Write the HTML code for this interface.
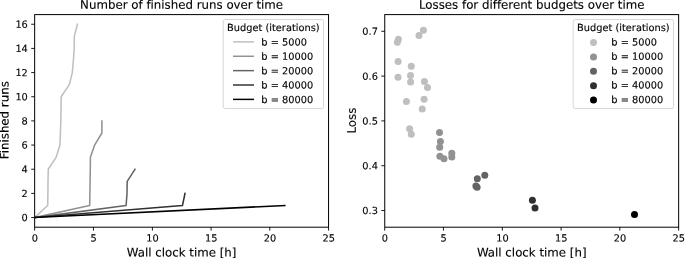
<!DOCTYPE html>
<html><head><meta charset="utf-8"><title>Budgets</title>
<style>html,body{margin:0;padding:0;background:#fff;overflow:hidden}svg{display:block;will-change:transform}text{font-variant-ligatures:none;font-feature-settings:"liga" 0,"clig" 0;text-rendering:geometricPrecision;font-family:"DejaVu Sans","Liberation Sans",sans-serif;fill:#000;stroke:#000;stroke-width:0.13px}</style></head><body>
<svg width="685" height="258" viewBox="0 0 685 258">
<rect width="685" height="258" fill="#fff"/>
<text transform="translate(181.60,8.70) rotate(0.03)" font-size="11.8" text-anchor="middle">Number of finished runs over time</text>
<text transform="translate(181.60,256.50) rotate(0.03)" font-size="11.8" text-anchor="middle">Wall clock time [h]</text>
<text transform="translate(8.55,120.20) rotate(-89.97)" font-size="11.8" text-anchor="middle">Finished runs</text>
<line x1="34.65" y1="227.2" x2="34.65" y2="230.63" stroke="#000" stroke-width="0.9"/>
<text transform="translate(34.75,241.60) rotate(0.03)" font-size="9.8" text-anchor="middle">0</text>
<line x1="93.45" y1="227.2" x2="93.45" y2="230.63" stroke="#000" stroke-width="0.9"/>
<text transform="translate(93.55,241.60) rotate(0.03)" font-size="9.8" text-anchor="middle">5</text>
<line x1="152.40" y1="227.2" x2="152.40" y2="230.63" stroke="#000" stroke-width="0.9"/>
<text transform="translate(152.50,241.60) rotate(0.03)" font-size="9.8" text-anchor="middle">10</text>
<line x1="211.10" y1="227.2" x2="211.10" y2="230.63" stroke="#000" stroke-width="0.9"/>
<text transform="translate(211.20,241.60) rotate(0.03)" font-size="9.8" text-anchor="middle">15</text>
<line x1="269.80" y1="227.2" x2="269.80" y2="230.63" stroke="#000" stroke-width="0.9"/>
<text transform="translate(269.90,241.60) rotate(0.03)" font-size="9.8" text-anchor="middle">20</text>
<line x1="328.55" y1="227.2" x2="328.55" y2="230.63" stroke="#000" stroke-width="0.9"/>
<text transform="translate(328.65,241.60) rotate(0.03)" font-size="9.8" text-anchor="middle">25</text>
<line x1="31.22" y1="217.54" x2="34.65" y2="217.54" stroke="#000" stroke-width="0.9"/>
<text transform="translate(27.85,221.09) rotate(0.03)" font-size="9.8" text-anchor="end">0</text>
<line x1="31.22" y1="193.38" x2="34.65" y2="193.38" stroke="#000" stroke-width="0.9"/>
<text transform="translate(27.85,196.93) rotate(0.03)" font-size="9.8" text-anchor="end">2</text>
<line x1="31.22" y1="169.22" x2="34.65" y2="169.22" stroke="#000" stroke-width="0.9"/>
<text transform="translate(27.85,172.77) rotate(0.03)" font-size="9.8" text-anchor="end">4</text>
<line x1="31.22" y1="145.06" x2="34.65" y2="145.06" stroke="#000" stroke-width="0.9"/>
<text transform="translate(27.85,148.61) rotate(0.03)" font-size="9.8" text-anchor="end">6</text>
<line x1="31.22" y1="120.90" x2="34.65" y2="120.90" stroke="#000" stroke-width="0.9"/>
<text transform="translate(27.85,124.45) rotate(0.03)" font-size="9.8" text-anchor="end">8</text>
<line x1="31.22" y1="96.74" x2="34.65" y2="96.74" stroke="#000" stroke-width="0.9"/>
<text transform="translate(27.85,100.29) rotate(0.03)" font-size="9.8" text-anchor="end">10</text>
<line x1="31.22" y1="72.58" x2="34.65" y2="72.58" stroke="#000" stroke-width="0.9"/>
<text transform="translate(27.85,76.13) rotate(0.03)" font-size="9.8" text-anchor="end">12</text>
<line x1="31.22" y1="48.42" x2="34.65" y2="48.42" stroke="#000" stroke-width="0.9"/>
<text transform="translate(27.85,51.97) rotate(0.03)" font-size="9.8" text-anchor="end">14</text>
<line x1="31.22" y1="24.26" x2="34.65" y2="24.26" stroke="#000" stroke-width="0.9"/>
<text transform="translate(27.85,27.81) rotate(0.03)" font-size="9.8" text-anchor="end">16</text>
<clipPath id="cl"><rect x="34.65" y="14.6" width="293.90000000000003" height="212.6"/></clipPath>
<g clip-path="url(#cl)" fill="none" stroke-width="1.55" stroke-linejoin="round" stroke-linecap="square">
<polyline stroke="#bfbfbf" points="34.65,217.54 47.70,205.46 47.90,193.38 48.00,181.30 48.25,169.22 56.20,157.14 59.90,145.06 60.40,132.98 60.80,120.90 61.00,108.82 61.20,96.74 69.30,84.66 72.30,72.58 73.40,60.50 74.20,48.42 74.30,36.34 77.40,24.26"/>
<polyline stroke="#929292" points="34.65,217.54 89.70,205.46 89.90,193.38 90.10,181.30 90.30,169.22 90.40,157.14 94.60,145.06 101.90,132.98 101.90,120.90"/>
<polyline stroke="#636363" points="34.65,217.54 126.10,205.46 127.00,193.38 127.20,181.30 135.00,169.22"/>
<polyline stroke="#303030" points="34.65,217.54 182.50,205.46 185.00,193.38"/>
<polyline stroke="#000000" points="34.65,217.54 284.80,205.46"/>
</g>
<rect x="34.65" y="14.6" width="293.90000000000003" height="212.6" fill="none" stroke="#000" stroke-width="1.0"/>
<text transform="translate(531.70,8.70) rotate(0.03)" font-size="11.8" text-anchor="middle">Losses for different budgets over time</text>
<text transform="translate(531.70,256.50) rotate(0.03)" font-size="11.8" text-anchor="middle">Wall clock time [h]</text>
<text transform="translate(355.70,120.65) rotate(-89.97)" font-size="11.8" text-anchor="middle">Loss</text>
<line x1="384.70" y1="227.2" x2="384.70" y2="230.63" stroke="#000" stroke-width="0.9"/>
<text transform="translate(384.80,241.60) rotate(0.03)" font-size="9.8" text-anchor="middle">0</text>
<line x1="443.45" y1="227.2" x2="443.45" y2="230.63" stroke="#000" stroke-width="0.9"/>
<text transform="translate(443.55,241.60) rotate(0.03)" font-size="9.8" text-anchor="middle">5</text>
<line x1="502.35" y1="227.2" x2="502.35" y2="230.63" stroke="#000" stroke-width="0.9"/>
<text transform="translate(502.45,241.60) rotate(0.03)" font-size="9.8" text-anchor="middle">10</text>
<line x1="561.10" y1="227.2" x2="561.10" y2="230.63" stroke="#000" stroke-width="0.9"/>
<text transform="translate(561.20,241.60) rotate(0.03)" font-size="9.8" text-anchor="middle">15</text>
<line x1="619.80" y1="227.2" x2="619.80" y2="230.63" stroke="#000" stroke-width="0.9"/>
<text transform="translate(619.90,241.60) rotate(0.03)" font-size="9.8" text-anchor="middle">20</text>
<line x1="678.65" y1="227.2" x2="678.65" y2="230.63" stroke="#000" stroke-width="0.9"/>
<text transform="translate(678.75,241.60) rotate(0.03)" font-size="9.8" text-anchor="middle">25</text>
<line x1="381.32" y1="210.50" x2="384.75" y2="210.50" stroke="#000" stroke-width="0.9"/>
<text transform="translate(377.95,214.05) rotate(0.03)" font-size="9.8" text-anchor="end">0.3</text>
<line x1="381.32" y1="165.70" x2="384.75" y2="165.70" stroke="#000" stroke-width="0.9"/>
<text transform="translate(377.95,169.25) rotate(0.03)" font-size="9.8" text-anchor="end">0.4</text>
<line x1="381.32" y1="120.90" x2="384.75" y2="120.90" stroke="#000" stroke-width="0.9"/>
<text transform="translate(377.95,124.45) rotate(0.03)" font-size="9.8" text-anchor="end">0.5</text>
<line x1="381.32" y1="76.10" x2="384.75" y2="76.10" stroke="#000" stroke-width="0.9"/>
<text transform="translate(377.95,79.65) rotate(0.03)" font-size="9.8" text-anchor="end">0.6</text>
<line x1="381.32" y1="31.30" x2="384.75" y2="31.30" stroke="#000" stroke-width="0.9"/>
<text transform="translate(377.95,34.85) rotate(0.03)" font-size="9.8" text-anchor="end">0.7</text>
<g fill="#bfbfbf"><circle cx="423.40" cy="30.35" r="3.5"/><circle cx="419.00" cy="35.40" r="3.5"/><circle cx="398.40" cy="39.20" r="3.5"/><circle cx="397.40" cy="42.30" r="3.5"/><circle cx="398.10" cy="61.60" r="3.5"/><circle cx="411.30" cy="66.20" r="3.5"/><circle cx="398.00" cy="77.20" r="3.5"/><circle cx="410.50" cy="75.50" r="3.5"/><circle cx="410.60" cy="82.00" r="3.5"/><circle cx="424.40" cy="81.40" r="3.5"/><circle cx="427.50" cy="87.60" r="3.5"/><circle cx="424.10" cy="99.20" r="3.5"/><circle cx="406.40" cy="101.40" r="3.5"/><circle cx="422.20" cy="108.90" r="3.5"/><circle cx="409.60" cy="128.70" r="3.5"/><circle cx="411.30" cy="134.30" r="3.5"/></g>
<g fill="#929292"><circle cx="439.50" cy="132.60" r="3.5"/><circle cx="440.40" cy="141.50" r="3.5"/><circle cx="439.70" cy="147.30" r="3.5"/><circle cx="439.90" cy="156.30" r="3.5"/><circle cx="444.00" cy="158.80" r="3.5"/><circle cx="451.80" cy="153.20" r="3.5"/><circle cx="451.80" cy="156.90" r="3.5"/></g>
<g fill="#636363"><circle cx="484.80" cy="175.30" r="3.5"/><circle cx="477.30" cy="178.80" r="3.5"/><circle cx="475.90" cy="186.00" r="3.5"/><circle cx="477.10" cy="187.20" r="3.5"/></g>
<g fill="#303030"><circle cx="532.40" cy="200.20" r="3.5"/><circle cx="535.00" cy="208.00" r="3.5"/></g>
<g fill="#000000"><circle cx="634.50" cy="214.60" r="3.5"/></g>
<rect x="384.75" y="14.6" width="293.90" height="212.6" fill="none" stroke="#000" stroke-width="1.0"/>
<rect x="223.20" y="19.55" width="100.3" height="88.95" rx="1.9" ry="1.9" fill="#fff" fill-opacity="0.8" stroke="#ccc" stroke-opacity="0.8" stroke-width="0.98"/>
<text transform="translate(273.35,31.00) rotate(0.03)" font-size="9.8" text-anchor="middle">Budget (iterations)</text>
<line x1="233.0" y1="41.90" x2="254.0" y2="41.90" stroke="#bfbfbf" stroke-width="1.47"/>
<text transform="translate(261.30,45.40) rotate(0.03)" font-size="9.8">b = 5000</text>
<line x1="233.0" y1="56.27" x2="254.0" y2="56.27" stroke="#929292" stroke-width="1.47"/>
<text transform="translate(261.30,59.77) rotate(0.03)" font-size="9.8">b = 10000</text>
<line x1="233.0" y1="70.64" x2="254.0" y2="70.64" stroke="#636363" stroke-width="1.47"/>
<text transform="translate(261.30,74.14) rotate(0.03)" font-size="9.8">b = 20000</text>
<line x1="233.0" y1="85.01" x2="254.0" y2="85.01" stroke="#303030" stroke-width="1.47"/>
<text transform="translate(261.30,88.51) rotate(0.03)" font-size="9.8">b = 40000</text>
<line x1="233.0" y1="99.38" x2="254.0" y2="99.38" stroke="#000000" stroke-width="1.47"/>
<text transform="translate(261.30,102.88) rotate(0.03)" font-size="9.8">b = 80000</text>
<rect x="573.20" y="19.55" width="100.3" height="88.95" rx="1.9" ry="1.9" fill="#fff" fill-opacity="0.8" stroke="#ccc" stroke-opacity="0.8" stroke-width="0.98"/>
<text transform="translate(623.35,31.00) rotate(0.03)" font-size="9.8" text-anchor="middle">Budget (iterations)</text>
<circle cx="593.50" cy="42.60" r="3.5" fill="#bfbfbf"/>
<text transform="translate(611.30,45.40) rotate(0.03)" font-size="9.8">b = 5000</text>
<circle cx="593.50" cy="56.97" r="3.5" fill="#929292"/>
<text transform="translate(611.30,59.77) rotate(0.03)" font-size="9.8">b = 10000</text>
<circle cx="593.50" cy="71.34" r="3.5" fill="#636363"/>
<text transform="translate(611.30,74.14) rotate(0.03)" font-size="9.8">b = 20000</text>
<circle cx="593.50" cy="85.71" r="3.5" fill="#303030"/>
<text transform="translate(611.30,88.51) rotate(0.03)" font-size="9.8">b = 40000</text>
<circle cx="593.50" cy="100.08" r="3.5" fill="#000000"/>
<text transform="translate(611.30,102.88) rotate(0.03)" font-size="9.8">b = 80000</text>
</svg></body></html>
